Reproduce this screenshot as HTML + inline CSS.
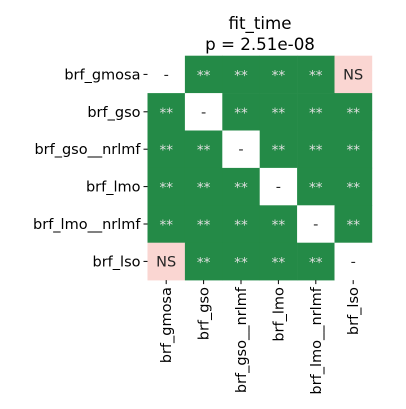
<!DOCTYPE html>
<html><head><meta charset="utf-8"><style>
html,body{margin:0;padding:0;background:#fff;}
svg{display:block;font-family:"DejaVu Sans","Liberation Sans",sans-serif;}
</style></head><body>
<svg id="chart" width="406" height="409" viewBox="0 0 406 409">
<text x="260" y="29" text-anchor="middle" font-size="16.7" fill="#000">fit_time</text>
<text x="260" y="50" text-anchor="middle" font-size="16.7" fill="#000">p = 2.51e-08</text>
<g id="cells"></g>
</svg>
<script>
const labels = ["brf_gmosa","brf_gso","brf_gso__nrlmf","brf_lmo","brf_lmo__nrlmf","brf_lso"];
const matrix = [
 ["-","**","**","**","**","NS"],
 ["**","-","**","**","**","**"],
 ["**","**","-","**","**","**"],
 ["**","**","**","-","**","**"],
 ["**","**","**","**","-","**"],
 ["NS","**","**","**","**","-"]
];
const x0=147.5, y0=55.7, cw=37.4;
const ns="http://www.w3.org/2000/svg";
const g=document.getElementById('cells');
function colX(i){return x0+i*cw;}
function rowY(j){return y0+j*cw;}
function mk(t,a){const e=document.createElementNS(ns,t);for(const k in a)e.setAttribute(k,a[k]);return e;}
matrix.forEach((row,r)=>row.forEach((v,c)=>{
  const fill = v==="**"?"#248a47":(v==="NS"?"#fad6d2":"#ffffff");
  const rect=mk('rect',{x:colX(c),y:rowY(r),width:cw+0.3,height:cw+0.3,fill:fill});
  
  
  g.appendChild(rect);
  const t=mk('text',{x:colX(c)+cw/2,y:rowY(r)+cw/2+(v==="**"?5.5:5),'text-anchor':'middle','font-size':v==="**"?13.5:14.5,fill:v==="**"?"#e0e0e0":"#262626"});
  t.textContent=v;
  
  
  g.appendChild(t);
}));
labels.forEach((l,i)=>{
  const y=rowY(i)+cw/2;
  const tk=mk('line',{x1:x0-4,x2:x0,y1:y,y2:y,stroke:'#000','stroke-width':1});
  
  
  g.appendChild(tk);
  const t=mk('text',{x:x0-7,y:y+5,'text-anchor':'end','font-size':14.5,fill:'#000'});
  t.textContent=l;
  
  
  g.appendChild(t);
  const x=colX(i)+cw/2, yb=rowY(6);
  const tk2=mk('line',{x1:x,x2:x,y1:yb,y2:yb+4,stroke:'#000','stroke-width':1});
  
  
  g.appendChild(tk2);
  const t2=mk('text',{x:x+5,y:yb+7,'text-anchor':'end','font-size':14.5,fill:'#000',transform:'rotate(-90 '+(x+5)+' '+(yb+7)+')'});
  t2.textContent=l;
  
  
  g.appendChild(t2);
});
</script>
</body></html>
